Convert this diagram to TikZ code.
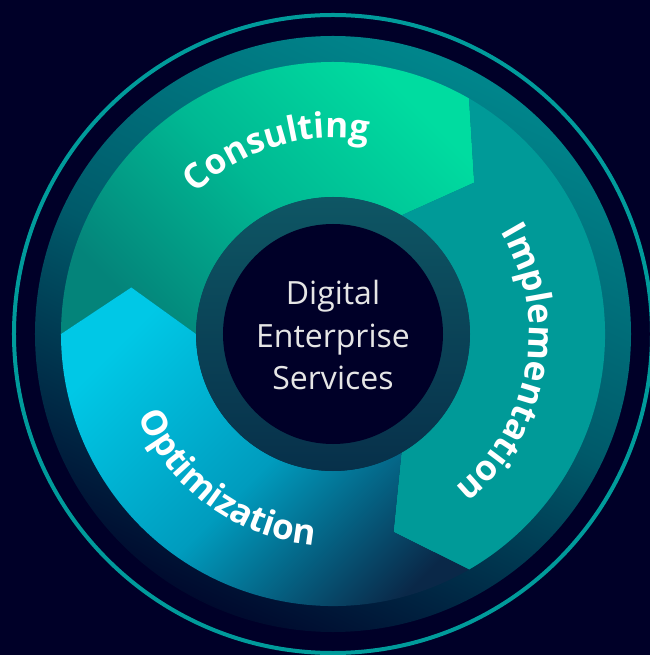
\documentclass[tikz,border=0pt]{standalone}
\usepackage{fontspec}
\setmainfont{Open Sans}
\usetikzlibrary{decorations.text}

\definecolor{navy}{HTML}{000028}
\definecolor{petrol}{HTML}{009B9B}
\definecolor{discTop}{HTML}{00868C}
\definecolor{discMid}{HTML}{005A6A}
\definecolor{discBot}{HTML}{000A2E}
\definecolor{consultLight}{HTML}{00DCA0}
\definecolor{consultMid}{HTML}{00B893}
\definecolor{consultDark}{HTML}{04847A}
\definecolor{implTeal}{HTML}{009A98}
\definecolor{optiLight}{HTML}{00C8E6}
\definecolor{optiMid}{HTML}{009CBE}
\definecolor{optiDark}{HTML}{0A2848}
\definecolor{hubTop}{HTML}{0E5664}
\definecolor{hubBot}{HTML}{07304A}
\definecolor{hubText}{HTML}{E6E6E6}

\newcommand{\labelfont}{\fontsize{35bp}{40bp}\selectfont\bfseries}
\def\rout{272bp}
\def\rmid{207bp}
\def\rin{137bp}
% annular arrow from tail angle #1 (notched) to head base angle #2
\newcommand{\cyclearrow}[2]{(#1:\rout) arc[start angle=#1, end angle=#2, radius=\rout]
  -- ({#2-13}:\rmid) -- (#2:\rin) arc[start angle=#2, end angle=#1, radius=\rin]
  -- ({#1-13}:\rmid) -- cycle}

\begin{document}
\begin{tikzpicture}[x=1bp,y=1bp,
    cycletext/.style={decorate, decoration={text along path, text align=center, text color=white}}]
    % Background
    \fill[navy] (-333,-321) rectangle (317,334);
    \useasboundingbox (-333,-321) rectangle (317,334);

    % Draw outer ring and disc
    \draw[petrol, line width=4bp] (0,0) circle[radius=319bp];
    \shade[top color=discTop, bottom color=discBot, middle color=discMid, shading angle=-25] (0,0) circle[radius=298bp];

    % Draw the three arrows
    \shade[top color=consultLight, bottom color=consultDark, middle color=consultMid, shading angle=-45] \cyclearrow{180}{60};
    \fill[implTeal] \cyclearrow{60}{-60};
    \shade[top color=optiLight, bottom color=optiDark, middle color=optiMid, shading angle=45] \cyclearrow{-60}{-180};

    % Draw hub
    \shade[top color=hubTop, bottom color=hubBot] (0,0) circle[radius=137bp];
    \fill[navy] (0,0) circle[radius=110bp];

    % Add labels
    \path[cycletext, decoration={text={|\labelfont|Consulting}}] (150:196bp) arc[start angle=150, end angle=64, radius=196bp];
    \path[cycletext, decoration={text={|\labelfont|Implementation}}] (45:196bp) arc[start angle=45, end angle=-65, radius=196bp];
    \path[cycletext, decoration={text={|\labelfont|Optimization}}] (180:212bp) arc[start angle=180, end angle=288, radius=212bp];
    \node[align=center, text=hubText, font=\fontsize{32bp}{42bp}\selectfont] (hub) at (0,-1) {Digital\\Enterprise\\Services};
\end{tikzpicture}
\end{document}
